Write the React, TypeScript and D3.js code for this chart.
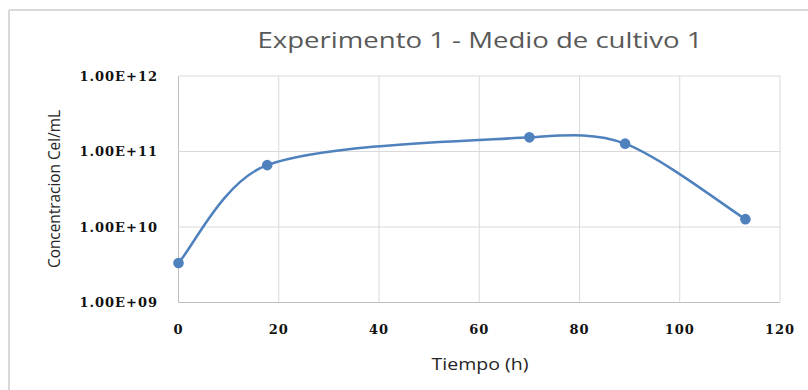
import React from "react";
import * as d3 from "d3";

const times = [0, 17.7, 70, 89.1, 113.1];
const concentrations = [3.34e9, 6.6e10, 1.54e11, 1.27e11, 1.27e10];
const xTicks = [0, 20, 40, 60, 80, 100, 120];
const yTicks = [1e9, 1e10, 1e11, 1e12];
const yTickLabels = ["1.00E+09", "1.00E+10", "1.00E+11", "1.00E+12"];
const title = "Experimento 1 - Medio de cultivo 1";
const xTitle = "Tiempo (h)";
const yTitle = "Concentracion Cel/mL";

// Excel-like smoothed line: Bezier segments with tangent (next - prev)/6,
// control arm length capped relative to segment length.
function smoothPath(pts: [number, number][], f = 1 / 6, cap = 0.35): string {
  const p = d3.path();
  if (!pts.length) return "";
  p.moveTo(pts[0][0], pts[0][1]);
  const n = pts.length;
  for (let i = 0; i < n - 1; i++) {
    const a = pts[i - 1] || pts[i];
    const b = pts[i];
    const c = pts[i + 1];
    const e = pts[i + 2] || pts[i + 1];
    const seg = Math.hypot(c[0] - b[0], c[1] - b[1]);
    let t1x = (c[0] - a[0]) * f, t1y = (c[1] - a[1]) * f;
    let t2x = (e[0] - b[0]) * f, t2y = (e[1] - b[1]) * f;
    const l1 = Math.hypot(t1x, t1y), l2 = Math.hypot(t2x, t2y);
    if (l1 > cap * seg) { const s = (cap * seg) / l1; t1x *= s; t1y *= s; }
    if (l2 > cap * seg) { const s = (cap * seg) / l2; t2x *= s; t2y *= s; }
    p.bezierCurveTo(b[0] + t1x, b[1] + t1y, c[0] - t2x, c[1] - t2y, c[0], c[1]);
  }
  return p.toString();
}

export default function App() {
  const W = 808, H = 390;
  const left = 178.5, right = 780, top = 76, bottom = 302.5;
  const x = d3.scaleLinear().domain([0, 120]).range([left, right]);
  const y = d3.scaleLog().domain([1e9, 1e12]).range([bottom, top]);
  const pts: [number, number][] = times.map((t, i) => [x(t), y(concentrations[i])]);
  const line = smoothPath(pts);
  const grid = "#D9D9D9";
  const tickFont = "'DejaVu Serif', serif";
  const labelFont = "'Open Sans', sans-serif";
  return (
    <svg width={W} height={H} style={{ position: "absolute", left: 0, top: 0, background: "#fff" }}>
      <rect x={0} y={0} width={W} height={H} fill="#fff" />
      {/* chart border */}
      <line x1={9} x2={W} y1={10} y2={10} stroke="#D9D9D9" strokeWidth={2} />
      <line x1={9} x2={9} y1={10} y2={H} stroke="#D9D9D9" strokeWidth={2} />
      {/* grid */}
      {xTicks.map((t) => (
        <line key={"gx" + t} x1={x(t)} x2={x(t)} y1={top} y2={bottom} stroke={t === 0 ? "#BFBFBF" : grid} strokeWidth={1} />
      ))}
      {yTicks.map((t) => (
        <line key={"gy" + t} x1={left} x2={right} y1={y(t)} y2={y(t)} stroke={t === 1e9 ? "#BFBFBF" : grid} strokeWidth={1} />
      ))}
      {/* tick labels */}
      {yTicks.map((t, i) => (
        <text key={"yl" + t} x={158} y={y(t)} dy="0.35em" textAnchor="end" fontFamily={tickFont} fontWeight="bold" fontSize={13} letterSpacing={1} fill="#111">
          {yTickLabels[i]}
        </text>
      ))}
      {xTicks.map((t) => (
        <text key={"xl" + t} x={x(t)} y={329} dy="0.35em" textAnchor="middle" fontFamily={tickFont} fontWeight="bold" fontSize={13} letterSpacing={1} fill="#111">
          {t}
        </text>
      ))}
      {/* series */}
      <path d={line} fill="none" stroke="#4F81BD" strokeWidth={2.5} />
      {pts.map((p, i) => (
        <circle key={"p" + i} cx={p[0]} cy={p[1]} r={5.3} fill="#4F81BD" />
      ))}
      {/* titles */}
      <text x={480} y={48} textAnchor="middle" fontFamily={labelFont} fontSize={21} fill="#595959" textLength={445} lengthAdjust="spacingAndGlyphs">
        {title}
      </text>
      <text x={480} y={370} textAnchor="middle" fontFamily={labelFont} fontSize={16} fill="#262626" textLength={97} lengthAdjust="spacingAndGlyphs">
        {xTitle}
      </text>
      <text transform={`translate(60,189) rotate(-90)`} textAnchor="middle" fontFamily={labelFont} fontSize={16} fill="#262626" textLength={158} lengthAdjust="spacingAndGlyphs">
        {yTitle}
      </text>
    </svg>
  );
}
